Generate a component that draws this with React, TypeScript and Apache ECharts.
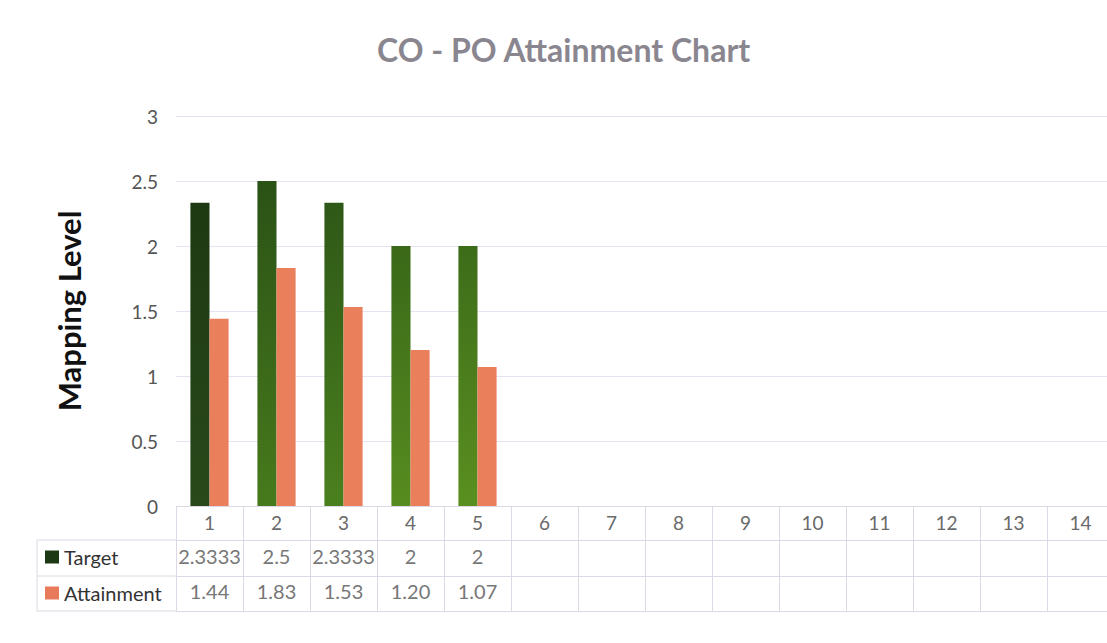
import React, { useEffect, useRef } from "react";
import * as echarts from "echarts";

const categories = ["1", "2", "3", "4", "5", "6", "7", "8", "9", "10", "11", "12", "13", "14"];
const targetValues = [2.3333, 2.5, 2.3333, 2, 2];
const attainmentValues = [1.44, 1.83, 1.53, 1.2, 1.07];
const targetLabels = ["2.3333", "2.5", "2.3333", "2", "2"];
const attainmentLabels = ["1.44", "1.83", "1.53", "1.20", "1.07"];
const yTicks = [0, 0.5, 1, 1.5, 2, 2.5, 3];

const targetTop = ["#1d3913", "#2b5216", "#2e5817", "#3a6818", "#3d6c19"];
const targetBottom = ["#29491a", "#477a1c", "#4b801e", "#578c20", "#5a8f20"];

const FONT = "Lato, 'Open Sans', sans-serif";
const LINE = "#dcd8e6";

export default function App() {
  const ref = useRef<HTMLDivElement>(null);
  useEffect(() => {
    if (!ref.current) return;
    const chart = echarts.init(ref.current, undefined, { renderer: "svg" });
    const gridLeft = 176;
    const catW = 67;
    const baseX = {
      type: "category" as const,
      data: categories,
      gridIndex: 0,
      position: "bottom" as const,
      boundaryGap: true,
      axisTick: { show: false },
      splitLine: { show: false },
      axisLine: { show: true, lineStyle: { color: LINE, width: 1 } },
    };
    chart.setOption({
      animation: false,
      backgroundColor: "#ffffff",
      title: {
        text: "CO - PO Attainment Chart",
        left: 372,
        top: 28,
        textStyle: { fontFamily: FONT, fontSize: 32, fontWeight: "bold", color: "#8a8690" },
      },
      legend: {
        orient: "vertical",
        left: 40,
        top: 542,
        itemGap: 16,
        itemWidth: 14,
        itemHeight: 13,
        icon: "rect",
        textStyle: { fontFamily: FONT, fontSize: 20, color: "#333" },
        data: [
          { name: "Target", itemStyle: { color: "#1d3913" } },
          { name: "Attainment", itemStyle: { color: "#e8795a" } },
        ],
      },
      grid: { left: gridLeft, top: 116, width: catW * categories.length, height: 390 },
      xAxis: [
        {
          ...baseX,
          axisLabel: { fontFamily: FONT, fontSize: 19, color: "#6a6a6a", margin: 7, interval: 0 },
          axisTick: { show: true, length: 105, alignWithLabel: false, interval: 0, lineStyle: { color: LINE } },
        },
        {
          ...baseX,
          offset: 34,
          axisLabel: {
            fontFamily: FONT,
            fontSize: 20,
            color: "#777",
            margin: 6,
            interval: 0,
            formatter: (_v: string, i: number) => targetLabels[i] ?? "",
          },
        },
        {
          ...baseX,
          offset: 70,
          axisLabel: {
            fontFamily: FONT,
            fontSize: 20,
            color: "#777",
            margin: 5,
            interval: 0,
            formatter: (_v: string, i: number) => attainmentLabels[i] ?? "",
          },
        },
        {
          ...baseX,
          offset: 105,
          axisLabel: { show: false },
        },
      ],
      yAxis: {
        type: "value",
        min: 0,
        max: yTicks[yTicks.length - 1],
        interval: 0.5,
        name: "Mapping Level",
        nameLocation: "middle",
        nameGap: 92,
        nameTextStyle: { fontFamily: FONT, fontSize: 31, fontWeight: "bold", color: "#111" },
        axisLine: { show: false },
        axisTick: { show: false },
        axisLabel: { fontFamily: FONT, fontSize: 19, color: "#555", margin: 18 },
        splitLine: { lineStyle: { color: "#e6e2ef", width: 1 } },
      },
      graphic: [
        { type: "line", shape: { x1: 37, y1: 540, x2: gridLeft, y2: 540 }, style: { stroke: LINE, lineWidth: 1 } },
        { type: "line", shape: { x1: 37, y1: 576, x2: gridLeft, y2: 576 }, style: { stroke: LINE, lineWidth: 1 } },
        { type: "line", shape: { x1: 37, y1: 611, x2: gridLeft, y2: 611 }, style: { stroke: LINE, lineWidth: 1 } },
        { type: "line", shape: { x1: 37, y1: 540, x2: 37, y2: 611 }, style: { stroke: LINE, lineWidth: 1 } },
      ],
      series: [
        {
          name: "Target",
          type: "bar",
          barGap: "0%",
          barCategoryGap: "43%",
          data: targetValues.map((v, i) => ({
            value: v,
            itemStyle: {
              color: new echarts.graphic.LinearGradient(0, 0, 0, 1, [
                { offset: 0, color: targetTop[i] },
                { offset: 1, color: targetBottom[i] },
              ]),
            },
          })),
        },
        {
          name: "Attainment",
          type: "bar",
          barGap: "0%",
          barCategoryGap: "43%",
          itemStyle: { color: "#ea7f5b" },
          data: attainmentValues,
        },
      ],
    });
    return () => chart.dispose();
  }, []);
  return (
    <div style={{ position: "fixed", left: 0, top: 0, width: 1107, height: 643, overflow: "hidden", background: "#fff" }}>
      <div ref={ref} style={{ width: 1140, height: 643 }} />
    </div>
  );
}
